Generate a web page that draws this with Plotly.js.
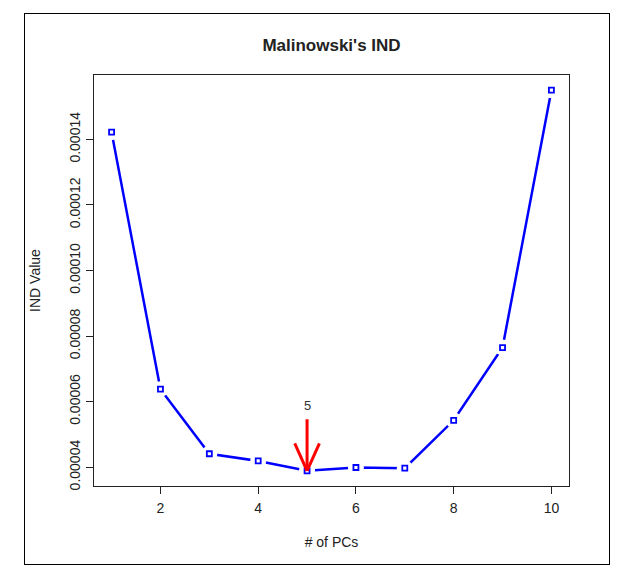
<!DOCTYPE html>
<html>
<head>
<meta charset="utf-8">
<script src="https://cdn.plot.ly/plotly-3.0.1.min.js"></script>
<style>
  html, body { margin: 0; padding: 0; background: #fff; }
  #wrap { position: relative; width: 626px; height: 579px; }
  #chart { width: 626px; height: 579px; }
  #frame { position: absolute; left: 24px; top: 13px; width: 584px; height: 550px;
           border: 1.5px solid #000; pointer-events: none; }
</style>
</head>
<body>
<div id="wrap">
  <div id="chart"></div>
  <div id="frame"></div>
</div>
<script>
// ---- data ----
const pcs = [1, 2, 3, 4, 5, 6, 7, 8, 9, 10];
const indValues = [0.0001422, 0.0000638, 0.0000441, 0.0000419, 0.0000389,
                   0.0000399, 0.0000397, 0.0000543, 0.0000765, 0.0001550];
const yTickVals = [0.00004, 0.00006, 0.00008, 0.00010, 0.00012, 0.00014];
const yTickText = ["0.00004", "0.00006", "0.00008", "0.00010", "0.00012", "0.00014"];
const xTickVals = [2, 4, 6, 8, 10];
const xTickText = ["2", "4", "6", "8", "10"];

// R-style 4% axis extension
function rRange(arr) {
  const lo = Math.min(...arr), hi = Math.max(...arr);
  const d = (hi - lo) * 0.04;
  return [lo - d, hi + d];
}
let minIdx = 0;
indValues.forEach((v, i) => { if (v < indValues[minIdx]) minIdx = i; });
const minX = pcs[minIdx], minY = indValues[minIdx];

const blue = '#0000ff';
const txt = '#222222';
const font = "'Liberation Sans', Arial, Helvetica, sans-serif";

const traces = [
  { x: pcs, y: indValues, mode: 'lines', line: { color: blue, width: 2.5 },
    hoverinfo: 'skip', showlegend: false },
  // white discs leave R-style "type='b'" gaps around each point
  { x: pcs, y: indValues, mode: 'markers',
    marker: { symbol: 'circle', size: 16, color: '#ffffff', line: { width: 0 } },
    hoverinfo: 'skip', showlegend: false },
  { x: pcs, y: indValues, mode: 'markers',
    marker: { symbol: 'square', size: 5, color: '#ffffff', line: { color: blue, width: 1.8 } },
    showlegend: false }
];

const arrowBase = { x: minX, y: minY, xref: 'x', yref: 'y', text: '', showarrow: true,
  arrowhead: 0, arrowwidth: 3, arrowcolor: '#ff0000', standoff: 0, startstandoff: 0 };

const layout = {
  width: 626, height: 579,
  margin: { l: 94, r: 57, t: 75, b: 93 },
  paper_bgcolor: '#ffffff', plot_bgcolor: '#ffffff',
  font: { family: font, size: 14, color: txt },
  title: { text: "Malinowski's IND", font: { family: font, size: 17, color: txt, weight: 'bold' },
           x: 0.5, xref: 'paper', y: 1 - 45 / 579, yanchor: 'middle' },
  xaxis: {
    range: rRange(pcs), tickvals: xTickVals, ticktext: xTickText,
    showgrid: false, zeroline: false, showline: true, mirror: true,
    linecolor: '#222', linewidth: 1, ticks: 'outside', ticklen: 7, tickcolor: '#222',
    ticklabelstandoff: 2,
    tickfont: { size: 14, color: txt },
    title: { text: '# of PCs', font: { size: 14, color: txt }, standoff: 22 }
  },
  yaxis: {
    range: rRange(indValues), tickvals: yTickVals, ticktext: yTickText, tickangle: -90,
    showgrid: false, zeroline: false, showline: true, mirror: true,
    linecolor: '#222', linewidth: 1, ticks: 'outside', ticklen: 7, tickcolor: '#222',
    tickfont: { size: 14, color: txt },
    title: { text: 'IND Value', font: { size: 14, color: txt }, standoff: 23 }
  },
  annotations: [
    Object.assign({}, arrowBase, { ax: 0, ay: -53 }),
    Object.assign({}, arrowBase, { ax: -13, ay: -29 }),
    Object.assign({}, arrowBase, { ax: 13, ay: -29 }),
    { x: minX, y: minY, xref: 'x', yref: 'y', text: String(minX), showarrow: false,
      yshift: 65, font: { size: 13, color: '#333' } }
  ]
};

Plotly.newPlot('chart', traces, layout, { displayModeBar: false, staticPlot: true });
</script>
</body>
</html>
